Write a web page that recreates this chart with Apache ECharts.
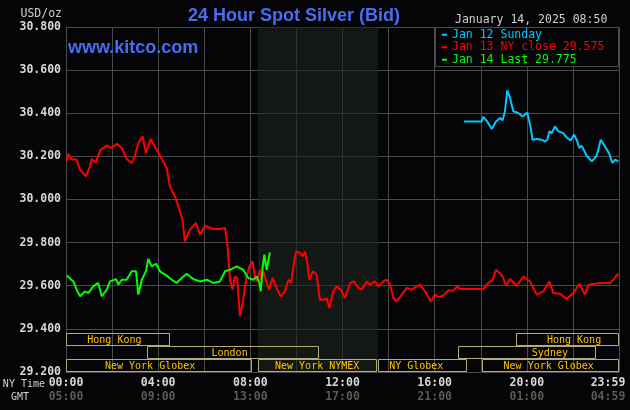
<!DOCTYPE html>
<html>
<head>
<meta charset="utf-8">
<script src="https://cdn.jsdelivr.net/npm/echarts@6/dist/echarts.min.js"></script>
<style>
  html, body { margin: 0; background: #050508; }
  #chart { width: 630px; height: 410px; }
</style>
</head>
<body>
<div id="chart"></div>
<script>
// price levels and time labels
var priceTicks = [29.2, 29.4, 29.6, 29.8, 30.0, 30.2, 30.4, 30.6, 30.8];
var nyLabels = ['00:00', '04:00', '08:00', '12:00', '16:00', '20:00', '23:59'];
var gmtLabels = ['05:00', '09:00', '13:00', '17:00', '21:00', '01:00', '04:59'];
var seriesNames = ['Jan 12 Sunday', 'Jan 13 NY close 29.575', 'Jan 14 Last 29.775'];

// [NY hour, price]
var jan12 = [[17.27,30.362],[18.04,30.362],[18.11,30.383],[18.28,30.362],[18.48,30.327],[18.66,30.362],[18.84,30.378],[18.95,30.367],[19.05,30.409],[19.15,30.506],[19.27,30.471],[19.41,30.409],[19.63,30.401],[19.82,30.385],[20.02,30.404],[20.14,30.347],[20.25,30.277],[20.43,30.281],[20.65,30.277],[20.79,30.269],[20.89,30.277],[20.98,30.316],[21.08,30.308],[21.22,30.339],[21.37,30.316],[21.58,30.308],[21.76,30.285],[21.90,30.274],[22.05,30.301],[22.16,30.277],[22.28,30.239],[22.38,30.250],[22.60,30.203],[22.82,30.177],[23.03,30.203],[23.21,30.277],[23.39,30.246],[23.58,30.212],[23.71,30.169],[23.83,30.185],[23.97,30.177]];

var jan13 = [[0.03,30.177],[0.10,30.212],[0.25,30.185],[0.46,30.185],[0.61,30.138],[0.87,30.107],[1.04,30.154],[1.12,30.188],[1.30,30.172],[1.48,30.228],[1.77,30.250],[1.98,30.239],[2.20,30.259],[2.42,30.239],[2.63,30.188],[2.85,30.169],[2.99,30.203],[3.14,30.262],[3.33,30.293],[3.47,30.216],[3.68,30.281],[3.94,30.228],[4.08,30.203],[4.37,30.146],[4.51,30.061],[4.73,30.014],[4.92,29.953],[5.06,29.906],[5.16,29.806],[5.38,29.860],[5.64,29.891],[5.82,29.837],[6.03,29.878],[6.39,29.863],[6.68,29.863],[6.90,29.868],[7.00,29.798],[7.12,29.628],[7.23,29.582],[7.33,29.643],[7.43,29.636],[7.55,29.458],[7.67,29.520],[7.77,29.597],[7.84,29.643],[7.96,29.690],[8.10,29.713],[8.20,29.643],[8.28,29.620],[8.42,29.674],[8.49,29.620],[8.56,29.667],[8.71,29.613],[8.82,29.582],[8.97,29.636],[9.17,29.582],[9.32,29.551],[9.50,29.574],[9.65,29.628],[9.77,29.613],[9.84,29.667],[9.98,29.759],[10.16,29.752],[10.27,29.736],[10.37,29.759],[10.47,29.706],[10.56,29.628],[10.71,29.667],[10.88,29.651],[11.02,29.535],[11.20,29.535],[11.31,29.543],[11.43,29.497],[11.60,29.574],[11.75,29.597],[11.92,29.582],[12.11,29.543],[12.33,29.613],[12.50,29.620],[12.69,29.590],[12.83,29.582],[13.05,29.620],[13.19,29.605],[13.41,29.620],[13.55,29.597],[13.77,29.620],[13.92,29.628],[14.06,29.605],[14.21,29.543],[14.35,29.527],[14.57,29.559],[14.79,29.590],[15.00,29.582],[15.22,29.597],[15.36,29.605],[15.58,29.574],[15.83,29.527],[16.01,29.559],[16.16,29.548],[16.37,29.554],[16.59,29.578],[16.81,29.578],[16.98,29.597],[17.10,29.585],[18.11,29.585],[18.33,29.613],[18.52,29.628],[18.66,29.674],[18.84,29.656],[18.95,29.643],[19.10,29.600],[19.27,29.631],[19.56,29.600],[19.85,29.643],[20.14,29.620],[20.43,29.559],[20.72,29.574],[20.98,29.620],[21.15,29.566],[21.44,29.563],[21.73,29.539],[22.02,29.566],[22.28,29.609],[22.52,29.559],[22.67,29.605],[23.18,29.613],[23.61,29.613],[23.75,29.628],[23.97,29.656]];

var jan14 = [[0.03,29.647],[0.32,29.620],[0.46,29.582],[0.61,29.551],[0.82,29.574],[0.97,29.566],[1.18,29.597],[1.40,29.613],[1.55,29.551],[1.77,29.582],[1.91,29.620],[2.17,29.631],[2.27,29.605],[2.42,29.628],[2.63,29.628],[2.85,29.667],[3.04,29.667],[3.14,29.559],[3.29,29.628],[3.47,29.667],[3.57,29.724],[3.72,29.690],[3.91,29.702],[4.08,29.667],[4.37,29.647],[4.59,29.628],[4.80,29.613],[5.02,29.636],[5.24,29.656],[5.52,29.631],[5.82,29.620],[6.11,29.628],[6.39,29.613],[6.68,29.620],[6.90,29.667],[7.12,29.674],[7.41,29.690],[7.69,29.674],[7.91,29.636],[8.13,29.628],[8.28,29.643],[8.39,29.613],[8.45,29.574],[8.54,29.690],[8.61,29.744],[8.71,29.674],[8.85,29.755]];

// trading sessions (NY hours) and the row band each sits in
var sessionNames = ['Hong Kong', 'London', 'New York Globex', 'New York NYMEX', 'NY Globex', 'New York Globex', 'Hong Kong', 'Sydney'];
var sessionStart = [0, 3.5, 0, 8.33, 13.55, 18.05, 19.55, 17.0];
var sessionEnd = [4.5, 11.0, 8.08, 13.5, 17.4, 24, 24, 23.0];
var sessionRow = [0, 1, 2, 2, 2, 2, 0, 1];
var sessionLabelAt = [2.1, 7.1, 3.65, 10.9, 15.2, 20.95, 22.05, 21.0];
var rowEdges = [29.38, 29.32, 29.26, 29.20];
var nymexShade = [8.33, 13.55];

var gridColor = '#4a4a4a';
var mono = '"DejaVu Sans Mono", monospace';

var sessionData = sessionNames.map(function (n, i) {
  var r = sessionRow[i];
  return [sessionStart[i], sessionEnd[i], rowEdges[r], rowEdges[r + 1], sessionLabelAt[i]];
});

var chart = echarts.init(document.getElementById('chart'));
chart.setOption({
  backgroundColor: '#050508',
  animation: false,
  grid: { left: 66, right: 11, top: 27, bottom: 38, outerBoundsMode: 'none' },
  xAxis: {
    type: 'value', min: 0, max: 24, interval: 2,
    axisLine: { show: true, lineStyle: { color: gridColor } },
    axisTick: { show: false },
    splitLine: { show: true, lineStyle: { color: gridColor, width: 1 } },
    axisLabel: {
      margin: 4,
      formatter: function (v) {
        if (v % 4) return '';
        var i = v / 4;
        var e = i === 6 ? 'e' : '';
        return '{ny' + e + '|' + nyLabels[i] + '}\n{gmt' + e + '|' + gmtLabels[i] + '}';
      },
      rich: {
        ny: { fontFamily: mono, fontWeight: 'bold', fontSize: 11.5, color: '#d8d8d8', lineHeight: 14 },
        nye: { fontFamily: mono, fontWeight: 'bold', fontSize: 11.5, color: '#d8d8d8', lineHeight: 14, padding: [0, 22, 0, 0] },
        gmt: { fontFamily: mono, fontWeight: 'bold', fontSize: 11.5, color: '#5a5a5a', lineHeight: 14 },
        gmte: { fontFamily: mono, fontWeight: 'bold', fontSize: 11.5, color: '#5a5a5a', lineHeight: 14, padding: [0, 22, 0, 0] }
      }
    }
  },
  yAxis: {
    type: 'value', min: priceTicks[0], max: priceTicks[priceTicks.length - 1], interval: 0.2,
    axisLine: { show: true, lineStyle: { color: gridColor } },
    axisTick: { show: false },
    splitLine: { show: true, lineStyle: { color: gridColor, width: 1 } },
    axisLabel: {
      margin: 5, color: '#d8d8d8', fontFamily: mono, fontWeight: 'bold', fontSize: 11.5,
      formatter: function (v) { return v.toFixed(3); }
    }
  },
  legend: {
    left: 442, top: 28.5, padding: 0, orient: 'vertical', itemGap: 0,
    icon: 'rect', itemWidth: 5, itemHeight: 2, selectedMode: false,
    textStyle: { fontFamily: mono, fontSize: 11.5, lineHeight: 12.5 },
    data: [
      { name: seriesNames[0], textStyle: { color: '#00c8ff' } },
      { name: seriesNames[1], textStyle: { color: '#ff0000' } },
      { name: seriesNames[2], textStyle: { color: '#00ff00' } }
    ]
  },
  graphic: [
    { type: 'rect', z: 3, shape: { x: 435.5, y: 27.5, width: 183, height: 39 },
      style: { fill: '#050508', stroke: gridColor, lineWidth: 1 } },
    { type: 'text', x: 294, y: 16, style: { text: '24 Hour Spot Silver (Bid)', fill: '#4a6cf0',
      font: 'bold 18px "Liberation Sans", Arial, sans-serif', align: 'center', verticalAlign: 'middle' } },
    { type: 'text', x: 68, y: 48, z: 5, style: { text: 'www.kitco.com', fill: '#4a6cf0',
      font: 'bold 18px "Liberation Sans", Arial, sans-serif', align: 'left', verticalAlign: 'middle' } },
    { type: 'text', x: 455, y: 20, style: { text: 'January 14, 2025 08:50', fill: '#d0d0d0',
      font: '11.5px ' + mono, align: 'left', verticalAlign: 'middle' } },
    { type: 'text', x: 62, y: 14, style: { text: 'USD/oz', fill: '#d0d0d0',
      font: '11.5px ' + mono, align: 'right', verticalAlign: 'middle' } },
    { type: 'text', x: 45, y: 384, style: { text: 'NY Time', fill: '#d0d0d0',
      font: '10px ' + mono, align: 'right', verticalAlign: 'middle' } },
    { type: 'text', x: 20, y: 397, style: { text: 'GMT', fill: '#d0d0d0',
      font: '10px ' + mono, align: 'center', verticalAlign: 'middle' } }
  ],
  series: [
    {
      name: seriesNames[0], type: 'line', data: jan12, color: '#00c8ff',
      showSymbol: false, symbol: 'none', lineStyle: { width: 2, color: '#00c8ff' }
    },
    {
      name: seriesNames[1], type: 'line', data: jan13, color: '#ff0000',
      showSymbol: false, symbol: 'none', lineStyle: { width: 2, color: '#ff0000' },
      markArea: {
        silent: true,
        itemStyle: { color: 'rgba(30,36,30,0.6)' },
        data: [[{ xAxis: nymexShade[0] }, { xAxis: nymexShade[1] }]]
      }
    },
    {
      name: seriesNames[2], type: 'line', data: jan14, color: '#00ff00',
      showSymbol: false, symbol: 'none', lineStyle: { width: 2, color: '#00ff00' }
    },
    {
      type: 'custom', data: sessionData, silent: true, z: 1,
      encode: { x: [0, 1, 4], y: [2, 3] },
      renderItem: function (params, api) {
        var p0 = api.coord([api.value(0), api.value(2)]);
        var p1 = api.coord([api.value(1), api.value(3)]);
        var pl = api.coord([api.value(4), (api.value(2) + api.value(3)) / 2]);
        var x0 = Math.round(p0[0]) + 0.5, y0 = Math.round(p0[1]) + 0.5;
        var x1 = Math.round(p1[0]) - 0.5, y1 = Math.round(p1[1]) - 0.5;
        return {
          type: 'group',
          children: [
            { type: 'rect', shape: { x: x0, y: y0, width: x1 - x0, height: y1 - y0 },
              style: { fill: 'none', stroke: '#b4ac78', lineWidth: 1 } },
            { type: 'text', x: pl[0], y: pl[1] + 0.5,
              style: { text: sessionNames[params.dataIndex], fill: '#ffc400',
                font: '10px ' + mono, align: 'center', verticalAlign: 'middle' } }
          ]
        };
      }
    }
  ]
});
</script>
</body>
</html>
